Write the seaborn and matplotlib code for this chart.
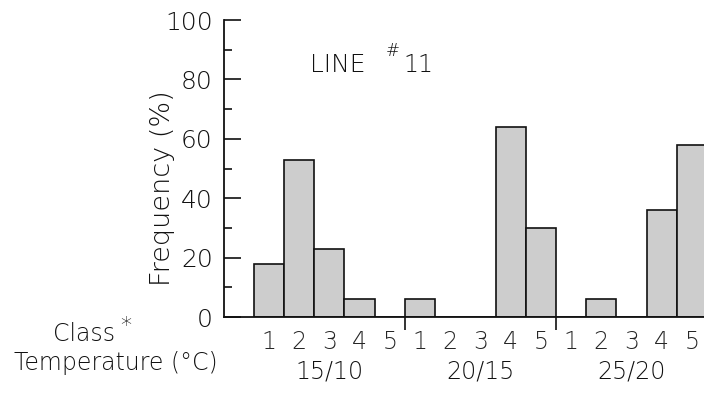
import matplotlib
matplotlib.use('Agg')
import matplotlib.pyplot as plt
import seaborn as sns
import pandas as pd

# ── Data ─────────────────────────────────────────────────────────────
temperatures = ['15/10', '20/15', '25/20']
classes = ['1', '2', '3', '4', '5']
freq_15_10 = [18, 53, 23, 6, 0]
freq_20_15 = [6, 0, 0, 64, 30]
freq_25_20 = [0, 6, 0, 36, 58]

rows = []
for g, (temp, vals) in enumerate(zip(temperatures, [freq_15_10, freq_20_15, freq_25_20])):
    for c, (cls, v) in enumerate(zip(classes, vals)):
        rows.append({'temp': temp, 'cls': cls, 'pos': g * len(classes) + c, 'freq': v})
df = pd.DataFrame(rows)

sns.set_style('ticks')
plt.rcParams['font.family'] = ['DejaVu Sans']
plt.rcParams['font.weight'] = 'light'
plt.rcParams['axes.labelweight'] = 'light'

fig = plt.figure(figsize=(7.04, 3.98), dpi=100)
ax = fig.add_axes([0.318, 0.2035, 0.682, 0.746])

sns.barplot(data=df, x='pos', y='freq', native_scale=True, width=1.0,
            color='#cdcdcd', saturation=1, edgecolor='#111111', linewidth=1.2,
            errorbar=None, ax=ax)

ax.set_xlim(-1.49, 14.4)
ax.set_ylim(0, 100)
sns.despine(ax=ax, top=True, right=True)
for side in ['left', 'bottom']:
    ax.spines[side].set_linewidth(1.3)
    ax.spines[side].set_color('#111111')

# y ticks: inward, major every 20, minor every 10
ax.set_yticks(range(0, 101, 20))
ax.set_yticks(range(10, 100, 20), minor=True)
ax.tick_params(axis='y', which='major', direction='in', length=12, width=1.2,
               labelsize=18, pad=8, colors='#111111')
ax.tick_params(axis='y', which='minor', direction='in', length=6, width=1.2,
               colors='#111111')

# x ticks: dividers between groups, class numbers under bars
n = len(classes)
ax.set_xticks([n - 0.5, 2 * n - 0.5])
ax.set_xticklabels([])
ax.set_xticks(df['pos'], minor=True)
ax.set_xticklabels(df['cls'], minor=True)
ax.tick_params(axis='x', which='major', direction='out', length=9, width=1.2,
               colors='#111111')
ax.tick_params(axis='x', which='minor', length=0, labelsize=17, pad=9)

ax.set_xlabel('')
ax.set_ylabel('Frequency (%)', fontsize=19.5, color='#111111')
ax.yaxis.set_label_coords(-0.102, 0.434)

# group labels under class numbers
for g, temp in enumerate(temperatures):
    ax.text(g * n + 2, -0.182, temp, transform=ax.get_xaxis_transform(),
            ha='center', va='center', fontsize=17, color='#111111')

# left-side row labels
fig.text(0.075, 0.16, 'Class', ha='left', va='center', fontsize=17, color='#111111')
fig.text(0.171, 0.18, '*', ha='left', va='center', fontsize=16, color='#111111')
fig.text(0.165, 0.088, 'Temperature (\u00b0C)', ha='center', va='center',
         fontsize=17, color='#111111')

# title "LINE #11"
fig.text(0.44, 0.837, 'LINE', ha='left', va='center', fontsize=18, color='#111111')
fig.text(0.548, 0.872, '#', ha='left', va='center', fontsize=12, color='#111111')
fig.text(0.573, 0.837, '11', ha='left', va='center', fontsize=17, color='#111111')

fig.savefig('out.png', dpi=100)
